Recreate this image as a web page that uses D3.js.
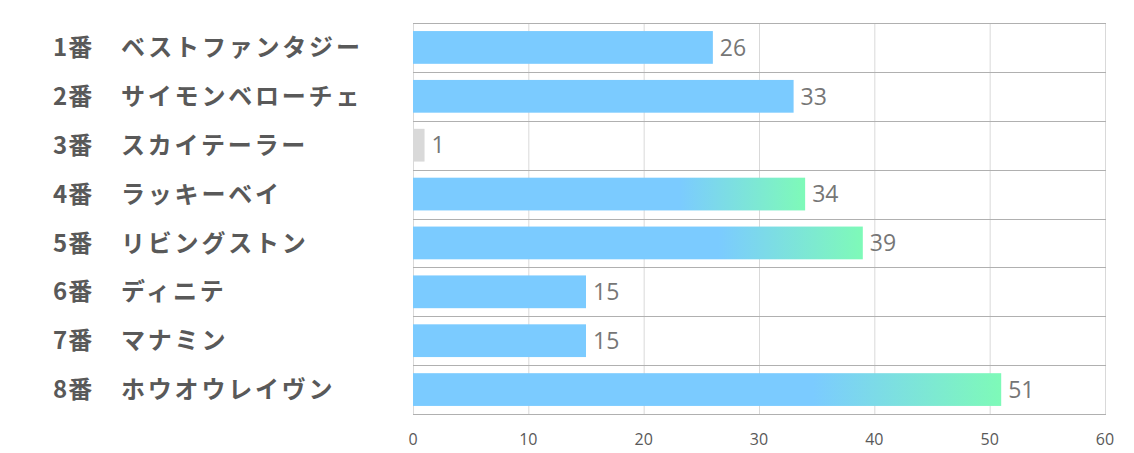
<!DOCTYPE html>
<html><head><meta charset="utf-8">
<script src="https://cdn.jsdelivr.net/npm/d3@7"></script>
<style>
html,body{margin:0;padding:0;background:#fff;}
</style></head>
<body>
<svg id="chart" width="1134" height="453"></svg>
<script>
const numbers = ["1番","2番","3番","4番","5番","6番","7番","8番"];
const names = ["ベストファンタジー","サイモンベローチェ","スカイテーラー","ラッキーベイ","リビングストン","ディニテ","マナミン","ホウオウレイヴン"];
const values = [26,33,1,34,39,15,15,51];
const kinds = ["blue","blue","gray","grad","grad","blue","blue","grad"];
const xTicks = [0,10,20,30,40,50,60];

(function(){
const svg = d3.select("#chart");
const mLeft = 413, mRight = 1105, mTop = 23, mBottom = 414;
const x = d3.scaleLinear().domain([0,60]).range([mLeft,mRight]);
const y = d3.scaleBand().domain(d3.range(values.length)).range([mTop,mBottom]).paddingInner(0.33).paddingOuter(0.165);
const rowY = d3.scaleBand().domain(d3.range(values.length)).range([mTop,mBottom]);

const defs = svg.append("defs");
const grad = defs.append("linearGradient").attr("id","g").attr("x1","0").attr("x2","1").attr("y1","0").attr("y2","0");
grad.append("stop").attr("offset","0").attr("stop-color","#7bcbff");
grad.append("stop").attr("offset","0.68").attr("stop-color","#7bcbff");
grad.append("stop").attr("offset","1").attr("stop-color","#7efab8");

svg.append("g").selectAll("line").data(xTicks).join("line")
  .attr("x1",d=>x(d)+0.5).attr("x2",d=>x(d)+0.5)
  .attr("y1",mTop).attr("y2",mBottom)
  .attr("stroke","#d9d9d9").attr("stroke-width",1);
svg.append("g").selectAll("line").data(d3.range(values.length+1)).join("line")
  .attr("x1",mLeft).attr("x2",mRight+1)
  .attr("y1",i=>Math.round(mTop + i*rowY.step())+0.5).attr("y2",i=>Math.round(mTop + i*rowY.step())+0.5)
  .attr("stroke","#b0b0b0").attr("stroke-width",1);

svg.append("g").selectAll("rect").data(values).join("rect")
  .attr("x",x(0)).attr("y",(d,i)=>y(i))
  .attr("width",d=>x(d)-x(0)).attr("height",y.bandwidth())
  .attr("fill",(d,i)=>kinds[i]==="gray"?"#d9d9d9":kinds[i]==="grad"?"url(#g)":"#7bcbff");

svg.append("g").selectAll("text").data(values).join("text")
  .attr("x",d=>x(d)+7).attr("y",(d,i)=>y(i)+y.bandwidth()/2)
  .attr("dy","0.36em")
  .attr("font-family","'Open Sans', sans-serif").attr("font-size",23)
  .attr("fill","#767676").text(d=>d);

const labs = svg.append("g").selectAll("text").data(values).join("text")
  .attr("y",(d,i)=>rowY(i)+rowY.bandwidth()/2)
  .attr("dy","0.36em")
  .attr("font-family","'Noto Sans CJK JP', sans-serif").attr("font-weight","bold")
  .attr("font-size",24)
  .attr("fill","#595959");
labs.append("tspan").attr("x",53).attr("letter-spacing","1px").text((d,i)=>numbers[i]);
labs.append("tspan").attr("x",121).attr("letter-spacing","2.8px").text((d,i)=>names[i]);

svg.append("g").selectAll("text").data(xTicks).join("text")
  .attr("x",d=>x(d)).attr("y",439).attr("dy","0.36em")
  .attr("text-anchor","middle")
  .attr("font-family","'Open Sans', sans-serif").attr("font-size",16)
  .attr("fill","#595959").text(d=>d);
})();
</script>
</body></html>
